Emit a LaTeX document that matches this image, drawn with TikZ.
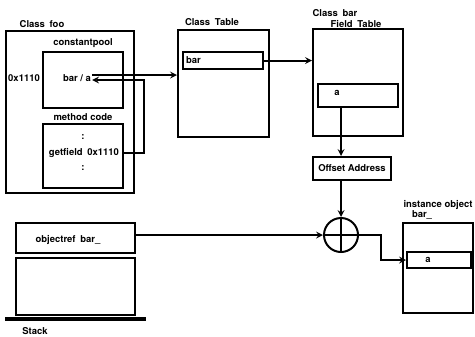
\documentclass[tikz,border=0pt]{standalone}
\usepackage{fontspec}
\setmainfont{TeX Gyre Heros}
\usetikzlibrary{arrows, positioning}
\tikzset{
    box/.style={rectangle, draw=black, line width=2pt, inner sep=0pt},
    lbl/.style={font=\fontsize{9.5}{11}\selectfont\bfseries, inner sep=1pt},
    arrow/.style={line width=2pt,->,>=stealth}
}

\begin{document}
\begin{tikzpicture}[x=1bp, y=-1bp]
    \useasboundingbox (0,0) rectangle (475,336);

    % class foo
    \node (foo) [box, minimum width=128bp, minimum height=162bp] at (70,112) {};
    \node (cpool) [box, minimum width=80bp, minimum height=56bp] at (83,80) {};
    \node (mcode) [box, minimum width=80bp, minimum height=64bp] at (83,156) {};
    \node (foolbl) [lbl] at (42,24) {Class\enspace foo};
    \node (cplbl) [lbl, above=2bp of cpool] {constantpool};
    \node (mclbl) [lbl, above=1bp of mcode] {method code};
    \node (addr) [lbl, left=1bp of cpool.west, yshift=2bp] {0x1110};
    \node (bara) [lbl] at (77,78) {bar / a};
    \node (dots1) [lbl] at (83,137) {:};
    \node (getf) [lbl] at (84,153) {getfield\enspace 0x1110};
    \node (dots2) [lbl] at (83,168) {:};

    % class table
    \node (ctable) [box, minimum width=91bp, minimum height=107bp] at (223.5,83.5) {};
    \node (barent) [box, minimum width=80bp, minimum height=17bp] at (223,60.5) {};
    \node (ctlbl) [lbl] at (212,22) {Class\enspace Table};
    \node (bartxt) [lbl, right=3bp of barent.west] {bar};

    % class bar field table
    \node (ftable) [box, minimum width=90bp, minimum height=107bp] at (358,82.5) {};
    \node (aent) [box, minimum width=80bp, minimum height=23bp] at (358,95.5) {};
    \node (cblbl) [lbl] at (335,13) {Class\enspace bar};
    \node (ftlbl) [lbl] at (356,24) {Field\enspace Table};
    \node (atxt) [lbl] at (337,93) {a};
    \node (offset) [box, lbl, inner sep=3bp, minimum width=78bp, minimum height=23bp] at (352,168.5) {Offset Address};

    % adder
    \node (sum) [circle, draw=black, line width=2pt, minimum size=34bp, inner sep=0pt] at (341,235) {};
    \draw [line width=2pt] (sum.north) -- (sum.south);
    \draw [line width=2pt] (sum.west) -- (sum.east);

    % stack
    \node (objref) [box, minimum width=119bp, minimum height=30bp] at (75.5,237.5) {};
    \node (objtxt) [lbl] at (68,240) {objectref\enspace bar\_};
    \node (stackbox) [box, minimum width=119bp, minimum height=57bp] at (75.5,286.5) {};
    \draw [line width=3.5bp] (5,319) -- (146,319);
    \node (stacklbl) [lbl] at (35,331) {Stack};

    % instance object
    \node (inst) [box, minimum width=70bp, minimum height=90bp] at (438,268) {};
    \node (insta) [box, minimum width=64bp, minimum height=16bp] at (439,260) {};
    \node (instlbl) [lbl] at (438,205) {instance object};
    \node (instbar) [lbl] at (422,215) {bar\_};
    \node (instatxt) [lbl] at (428,260) {a};

    % connectors
    \coordinate (p1) at ([yshift=3bp]bara.east);
    \coordinate (turn) at (144,80);
    \draw [arrow] (p1) -- (p1 -| ctable.west);
    \draw [arrow] (getf -| mcode.east) -| (turn) -- (bara.east |- turn);
    \draw [arrow] (barent.east) -- (barent.east -| ftable.west);
    \draw [arrow] (aent.south -| sum) -- (offset.north -| sum);
    \draw [arrow] (offset.south -| sum) -- (sum.north);
    \draw [arrow] (objref.east |- sum) -- (sum.west);
    \draw [arrow] (sum.east) -- ++(22,0) |- (insta.west);
\end{tikzpicture}
\end{document}
